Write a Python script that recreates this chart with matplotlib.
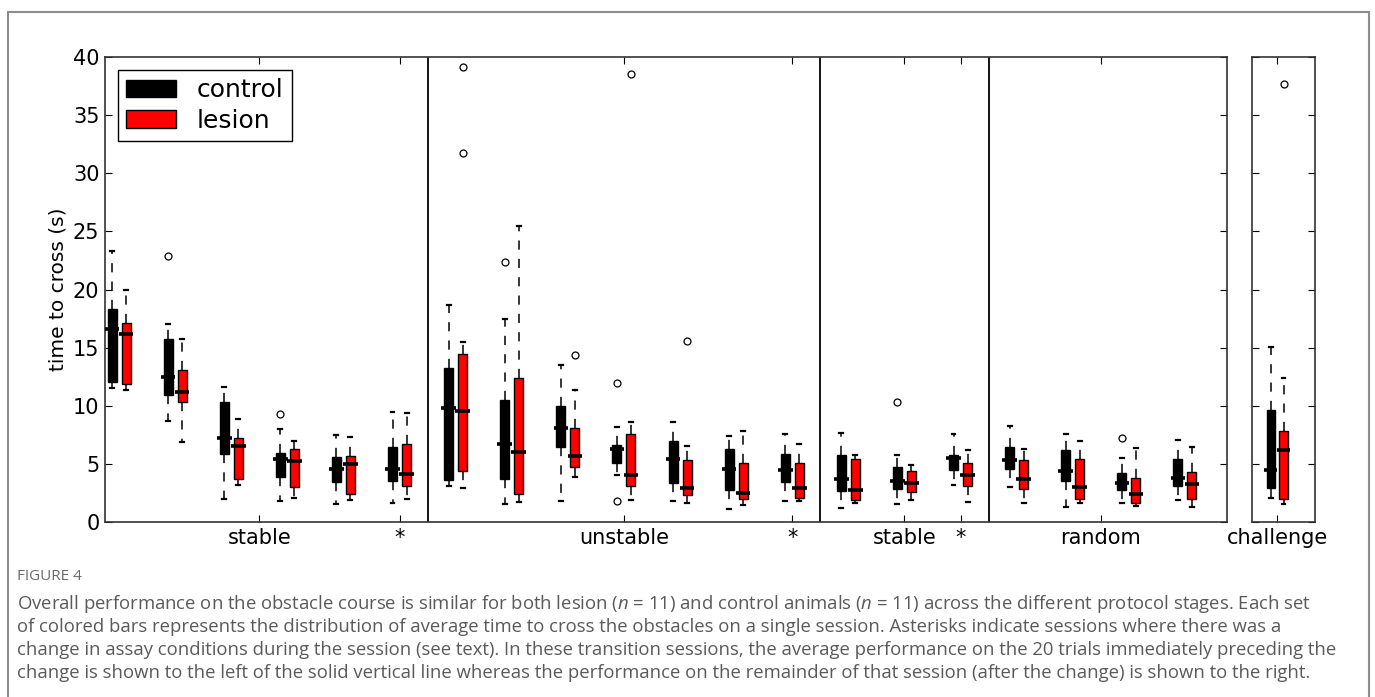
import matplotlib
matplotlib.use("Agg")
from matplotlib import pyplot as plt
from matplotlib.patches import Patch, Rectangle

plt.rcParams['font.family'] = ['DejaVu Sans']
plt.rcParams['mathtext.fontset'] = 'custom'
plt.rcParams['mathtext.rm'] = 'Open Sans'
plt.rcParams['mathtext.it'] = 'Open Sans:italic'

# sessions 1..20 on the main axes, last entry is the challenge session
ctrl_lo = [11.5, 8.65, 1.99, 1.84, 1.54, 1.6, 3.08, 1.54, 1.78, 4.06, 1.81, 1.16, 1.81,
           1.24, 1.54, 3.17, 3.02, 1.33, 1.6, 1.93, 2.07]
ctrl_q1 = [12.06, 10.93, 5.84, 3.91, 3.47, 3.56, 3.61, 3.7, 6.49, 5.04, 3.32, 2.73, 3.41,
           2.64, 2.81, 4.5, 4.59, 3.56, 2.73, 3.08, 2.96]
ctrl_med = [16.56, 12.44, 7.23, 5.42, 4.59, 4.56, 9.78, 6.73, 8.09, 6.28, 5.39, 4.56, 4.5,
            3.67, 3.56, 5.51, 5.33, 4.36, 3.38, 3.76, 4.5]
ctrl_q3 = [18.28, 15.7, 10.28, 5.96, 5.6, 6.49, 13.24, 10.52, 9.99, 6.64, 6.96, 6.31, 5.84,
           5.75, 4.74, 5.78, 6.43, 6.19, 4.21, 5.45, 9.6]
ctrl_hi = [23.3, 17.0, 11.64, 7.97, 7.47, 9.45, 18.7, 17.5, 13.54, 8.15, 8.62, 7.38, 7.53,
           7.67, 5.75, 7.53, 8.27, 7.56, 5.54, 7.08, 15.02]
ctrl_out = [[], [22.9], [], [9.3], [], [], [], [22.4], [], [11.97, 1.81], [], [], [],
            [], [10.34], [], [], [], [7.26], [], []]

les_lo = [11.38, 6.87, 3.17, 2.04, 1.9, 1.99, 2.93, 1.69, 3.91, 1.9, 1.6, 1.48, 1.84,
          1.63, 1.9, 1.69, 1.63, 1.6, 1.39, 1.3, 1.54]
les_q1 = [11.85, 10.28, 3.7, 3.02, 2.43, 3.08, 4.41, 2.37, 4.71, 3.08, 2.28, 1.99, 2.07,
          1.9, 2.58, 3.11, 2.87, 1.99, 1.63, 1.99, 1.99]
les_med = [16.15, 11.17, 6.52, 5.24, 4.95, 4.15, 9.54, 5.99, 5.69, 4.06, 2.93, 2.52, 2.93,
           2.79, 3.38, 4.06, 3.67, 2.99, 2.37, 3.26, 6.19]
les_q3 = [17.1, 13.1, 7.26, 6.28, 5.69, 6.73, 14.49, 12.36, 8.12, 7.61, 5.36, 5.1, 5.1,
          5.39, 4.36, 5.1, 5.33, 5.45, 3.82, 4.27, 7.82]
les_hi = [19.97, 15.7, 8.86, 6.96, 7.32, 9.39, 15.5, 25.48, 11.32, 8.56, 6.52, 7.82, 6.67,
          5.78, 4.89, 6.19, 6.28, 6.96, 6.37, 6.49, 12.36]
les_out = [[], [], [], [], [], [], [31.76, 39.1], [], [14.34], [38.58], [15.53], [], [],
           [], [], [], [], [], [], [], [37.72]]

stage_ticks = [3.5, 6, 10, 13, 15, 16, 18.5]
stage_labels = ['stable', '*', 'unstable', '*', 'stable', '*', 'random']
dividers = [6.5, 13.5, 16.5]

caption = [
    "Overall performance on the obstacle course is similar for both lesion ($n$ = 11) and control animals ($n$ = 11) across the different protocol stages. Each set",
    "of colored bars represents the distribution of average time to cross the obstacles on a single session. Asterisks indicate sessions where there was a",
    "change in assay conditions during the session (see text). In these transition sessions, the average performance on the 20 trials immediately preceding the",
    "change is shown to the left of the solid vertical line whereas the performance on the remainder of that session (after the change) is shown to the right.",
]


def stats(lo, q1, med, q3, hi, out):
    return [dict(whislo=a, q1=b, med=c, q3=d, whishi=e, fliers=f)
            for a, b, c, d, e, f in zip(lo, q1, med, q3, hi, out)]


def draw(ax, st, pos, color):
    ax.bxp(st, positions=pos, widths=0.16, capwidths=0.07, patch_artist=True,
           showfliers=True, manage_ticks=False,
           boxprops=dict(facecolor=color, edgecolor='black', linewidth=1),
           whiskerprops=dict(color='black', linewidth=1.1, linestyle=(0, (6, 6))),
           capprops=dict(color='black', linewidth=1.6),
           medianprops=dict(visible=False),
           flierprops=dict(marker='o', markerfacecolor='none', markeredgecolor='black',
                           markersize=5, markeredgewidth=0.9))
    ax.hlines([s['med'] for s in st], [p - 0.13 for p in pos], [p + 0.13 for p in pos],
              color='black', linewidth=2.6, zorder=4)


def style(ax):
    ax.set_ylim(0, 40)
    ax.set_yticks(range(0, 41, 5))
    ax.tick_params(direction='in', top=True, right=True, length=5, width=0.8,
                   labelsize=15, pad=4)
    for sp in ax.spines.values():
        sp.set_linewidth(1.2)
        sp.set_color('#333333')


fig = plt.figure(figsize=(13.75, 6.97), dpi=100)
ax = fig.add_axes([105 / 1375, 175 / 697, 1122 / 1375, 465 / 697])
ax2 = fig.add_axes([1252 / 1375, 175 / 697, 63 / 1375, 465 / 697])

n = 20
pos = list(range(1, n + 1))
draw(ax, stats(ctrl_lo[:n], ctrl_q1[:n], ctrl_med[:n], ctrl_q3[:n], ctrl_hi[:n], ctrl_out[:n]),
     [p - 0.125 for p in pos], 'black')
draw(ax, stats(les_lo[:n], les_q1[:n], les_med[:n], les_q3[:n], les_hi[:n], les_out[:n]),
     [p + 0.125 for p in pos], 'red')
for d in dividers:
    ax.axvline(d, color='black', linewidth=1.3)
ax.set_xlim(0.75, 20.75)
style(ax)
ax.set_xticks(stage_ticks)
ax.set_xticklabels(stage_labels)
ax.set_ylabel('time to cross (s)', fontsize=14.5)
ax.legend(handles=[Patch(facecolor='black', edgecolor='black', label='control'),
                   Patch(facecolor='red', edgecolor='black', label='lesion')],
          loc='upper left', fontsize=18, fancybox=False, edgecolor='black',
          framealpha=1, handlelength=2.0, handleheight=0.7, borderaxespad=0.5,
          labelspacing=0.25, borderpad=0.35).get_frame().set_linewidth(1)

draw(ax2, stats(ctrl_lo[n:], ctrl_q1[n:], ctrl_med[n:], ctrl_q3[n:], ctrl_hi[n:], ctrl_out[n:]),
     [1 - 0.125], 'black')
draw(ax2, stats(les_lo[n:], les_q1[n:], les_med[n:], les_q3[n:], les_hi[n:], les_out[n:]),
     [1 + 0.125], 'red')
ax2.set_xlim(0.5, 1.75)
style(ax2)
ax2.set_xticks([1])
ax2.set_xticklabels(['challenge'])
ax2.set_yticklabels([])

# outer frame and caption
fig.patches.append(Rectangle((8 / 1375, -0.05), 1361 / 1375, (697 - 12) / 697 + 0.05,
                             transform=fig.transFigure, fill=False, edgecolor='#8c8c8c',
                             linewidth=1.5))
fig.text(17 / 1375, 1 - 577 / 697, 'FIGURE 4', fontsize=11, color='#6b6b6b',
         family='Open Sans', va='center')
for i, line in enumerate(caption):
    fig.text(17 / 1375, 1 - (604 + 23 * i) / 697, line, fontsize=13.3, color='#5a5a5a',
             family='Open Sans', va='center')

fig.savefig('out.png', dpi=100)
